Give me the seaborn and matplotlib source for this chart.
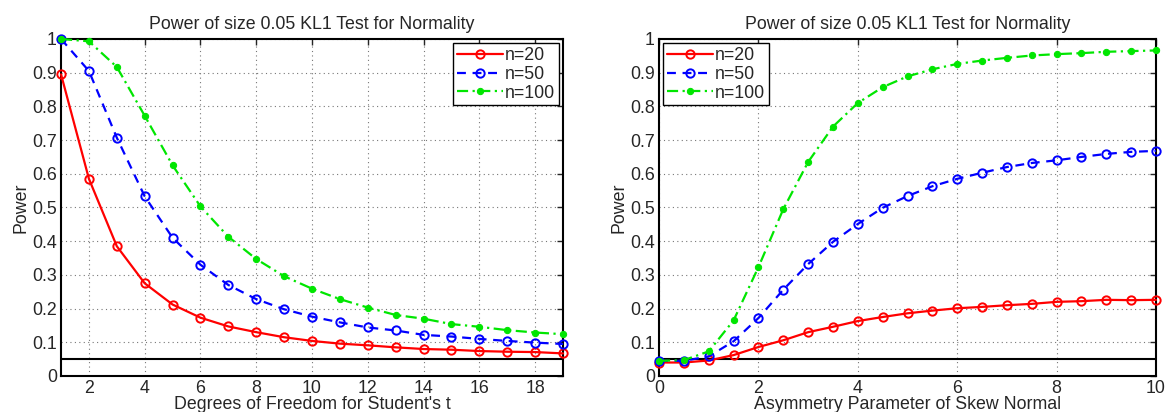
import numpy as np
import pandas as pd
import seaborn as sns
import matplotlib
matplotlib.use('Agg')
import matplotlib.pyplot as plt

# Student's t alternatives
df_t = list(range(1, 20))
t_n20 = [0.895, 0.585, 0.385, 0.275, 0.212, 0.173, 0.147, 0.130, 0.115, 0.104,
         0.096, 0.091, 0.085, 0.080, 0.078, 0.074, 0.072, 0.071, 0.067]
t_n50 = [1.000, 0.905, 0.707, 0.533, 0.410, 0.330, 0.270, 0.228, 0.198, 0.176,
         0.159, 0.144, 0.135, 0.122, 0.117, 0.110, 0.104, 0.099, 0.095]
t_n100 = [1.000, 0.993, 0.917, 0.772, 0.625, 0.503, 0.413, 0.347, 0.296, 0.259,
          0.228, 0.203, 0.181, 0.170, 0.154, 0.146, 0.136, 0.129, 0.124]

# skew normal alternatives
skew = [0, 0.5, 1, 1.5, 2, 2.5, 3, 3.5, 4, 4.5, 5, 5.5, 6, 6.5, 7, 7.5, 8, 8.5, 9, 9.5, 10]
sk_n20 = [0.040, 0.040, 0.046, 0.062, 0.086, 0.106, 0.130, 0.146, 0.163, 0.175, 0.186,
          0.194, 0.201, 0.205, 0.210, 0.214, 0.220, 0.222, 0.226, 0.225, 0.226]
sk_n50 = [0.045, 0.045, 0.058, 0.103, 0.172, 0.256, 0.332, 0.398, 0.451, 0.499, 0.534,
          0.563, 0.585, 0.603, 0.620, 0.632, 0.640, 0.650, 0.659, 0.665, 0.668]
sk_n100 = [0.045, 0.047, 0.073, 0.165, 0.323, 0.495, 0.635, 0.740, 0.810, 0.857, 0.889,
           0.910, 0.926, 0.936, 0.944, 0.951, 0.955, 0.958, 0.962, 0.964, 0.966]

size = 0.05
labels = ['n=20', 'n=50', 'n=100']
title = 'Power of size 0.05 KL1 Test for Normality'

sns.set_style('white')
plt.rcParams['font.family'] = ['Liberation Sans', 'DejaVu Sans']
fs = 12.8

fig = plt.figure(figsize=(11.65, 4.12), dpi=100)
ax1 = fig.add_axes([0.0524, 0.0874, 0.4309, 0.818])
ax2 = fig.add_axes([0.5657, 0.0874, 0.4266, 0.818])

styles = [
    dict(color='red', marker='o', markerfacecolor='none', markeredgecolor='red',
         markersize=6, markeredgewidth=1.4, linestyle='-'),
    dict(color='blue', marker='o', markerfacecolor='none', markeredgecolor='blue',
         markersize=6, markeredgewidth=1.4, linestyle=(0, (4, 3))),
    dict(color='#00e600', marker='o', markerfacecolor='#00e600', markeredgecolor='#00e600',
         markersize=4.5, linestyle=(0, (5, 2, 1, 2))),
]


def draw(ax, x, series, xlab, xlim, xticks, loc):
    for ys, lab, st in zip(series, labels, styles):
        d = pd.DataFrame({'x': x, 'y': ys})
        sns.lineplot(data=d, x='x', y='y', ax=ax, label=lab, linewidth=1.6,
                     clip_on=False, zorder=3, **st)
    ax.axhline(size, color='black', linewidth=1.5)
    ax.set_xlim(*xlim)
    ax.set_ylim(0, 1)
    ax.set_xticks(xticks)
    ax.set_yticks(np.arange(0, 1.01, 0.1))
    ax.set_yticklabels(['0', '0.1', '0.2', '0.3', '0.4', '0.5', '0.6', '0.7', '0.8', '0.9', '1'])
    ax.grid(True, linestyle=(0, (1, 3)), color='#777777', linewidth=0.8)
    ax.tick_params(direction='in', top=True, right=True, length=4, labelsize=fs,
                   width=1, pad=3)
    for s in ax.spines.values():
        s.set_color('black')
        s.set_linewidth(1.5)
    ax.set_xlabel(xlab, fontsize=fs, labelpad=-1)
    ax.set_ylabel('Power', fontsize=fs, labelpad=2)
    ax.set_title(title, fontsize=fs, pad=7)
    leg = ax.legend(loc=loc, fontsize=fs, handlelength=2.6, handletextpad=0.1,
                    borderpad=0.2, labelspacing=0.1, fancybox=False,
                    framealpha=1, borderaxespad=0.25)
    leg.get_frame().set_edgecolor('black')
    leg.get_frame().set_linewidth(1)


draw(ax1, df_t, [t_n20, t_n50, t_n100], "Degrees of Freedom for Student's t",
     (1, 19), range(2, 19, 2), 'upper right')
draw(ax2, skew, [sk_n20, sk_n50, sk_n100], 'Asymmetry Parameter of Skew Normal',
     (0, 10), range(0, 11, 2), 'upper left')

fig.savefig('out.png', dpi=100)
